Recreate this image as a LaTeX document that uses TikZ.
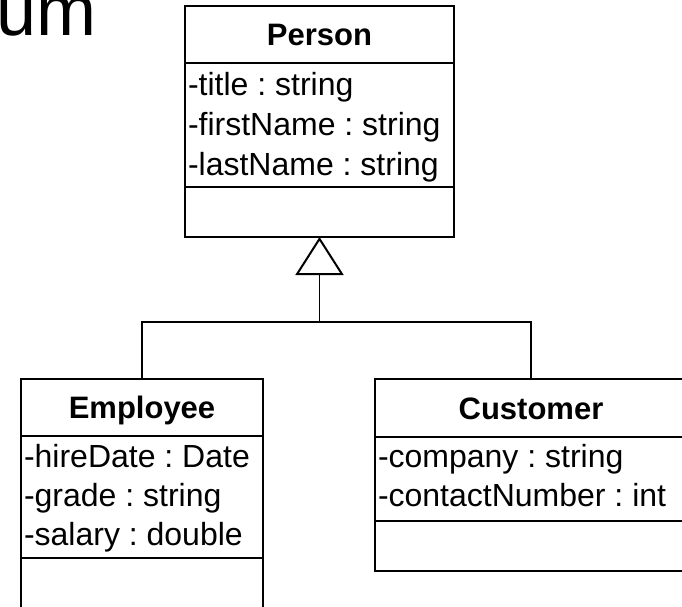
\documentclass[tikz,border=0pt]{standalone}
\usepackage{fontspec}
\setmainfont{Liberation Sans}
\frenchspacing
\usetikzlibrary{positioning,arrows.meta}

\begin{document}
\begin{tikzpicture}[x=1pt,y=-1pt,line width=2pt,node distance=0pt]
    \tikzstyle{class}=[draw,rectangle,inner sep=0pt,outer sep=0pt]
    \tikzstyle{class name}=[class,anchor=north west,minimum height=57pt,font=\fontsize{31}{37}\selectfont\bfseries,text height=22pt,text depth=0pt]
    \tikzstyle{class part}=[class]
    \tikzstyle{member}=[anchor=base west,inner sep=0pt,font=\fontsize{32}{39}\selectfont]
    \tikzstyle{link}=[line width=1.3pt]
    \tikzstyle{inherits}=[link,-{Triangle[open,length=38pt,width=48pt,line width=2pt]}]

    \useasboundingbox (0,0) rectangle (682,607);
    \clip (0,0) rectangle (682,607);

    % Draw the cut-off heading
    \node[anchor=base west,inner sep=0pt,font=\fontsize{72}{80}\selectfont] (heading) at (-5,36) {um};

    % Draw the base class
    \node[class name,minimum width=269pt] (person) at (185,6) {Person};
    \node[class part,minimum width=269pt,minimum height=124pt,below right=of person.south west] (person-attr) {};
    \node[class part,minimum width=269pt,minimum height=50pt,below right=of person-attr.south west] (person-ops) {};
    \foreach \txt [count=\i] in {-title : string,-firstName : string,-lastName : string}
        \node[member] (person-m\i) at ([shift={(2,{33+39.5*(\i-1)})}]person-attr.north west) {\txt};

    % Draw the derived classes
    \node[class name,minimum width=242pt] (employee) at (21,379) {Employee};
    \node[class part,minimum width=242pt,minimum height=122pt,below right=of employee.south west] (employee-attr) {};
    \node[class part,minimum width=242pt,minimum height=50pt,below right=of employee-attr.south west] (employee-ops) {};
    \foreach \txt [count=\i] in {-hireDate : Date,-grade : string,-salary : double}
        \node[member] (employee-m\i) at ([shift={(2,{31+39*(\i-1)})}]employee-attr.north west) {\txt};

    \node[class name,minimum width=312pt,minimum height=58pt] (customer) at (375,379) {Customer};
    \node[class part,minimum width=312pt,minimum height=84pt,below right=of customer.south west] (customer-attr) {};
    \node[class part,minimum width=312pt,minimum height=50pt,below right=of customer-attr.south west] (customer-ops) {};
    \foreach \txt [count=\i] in {-company : string,-contactNumber : int}
        \node[member] (customer-m\i) at ([shift={(2,{30+39*(\i-1)})}]customer-attr.north west) {\txt};

    % Connect the derived classes with the base class
    \coordinate (split) at (person-ops.south |- 0,322);
    \draw[link] (employee.north) |- (split) -| (customer.north);
    \draw[inherits] (split) -- (person-ops.south);
\end{tikzpicture}
\end{document}
